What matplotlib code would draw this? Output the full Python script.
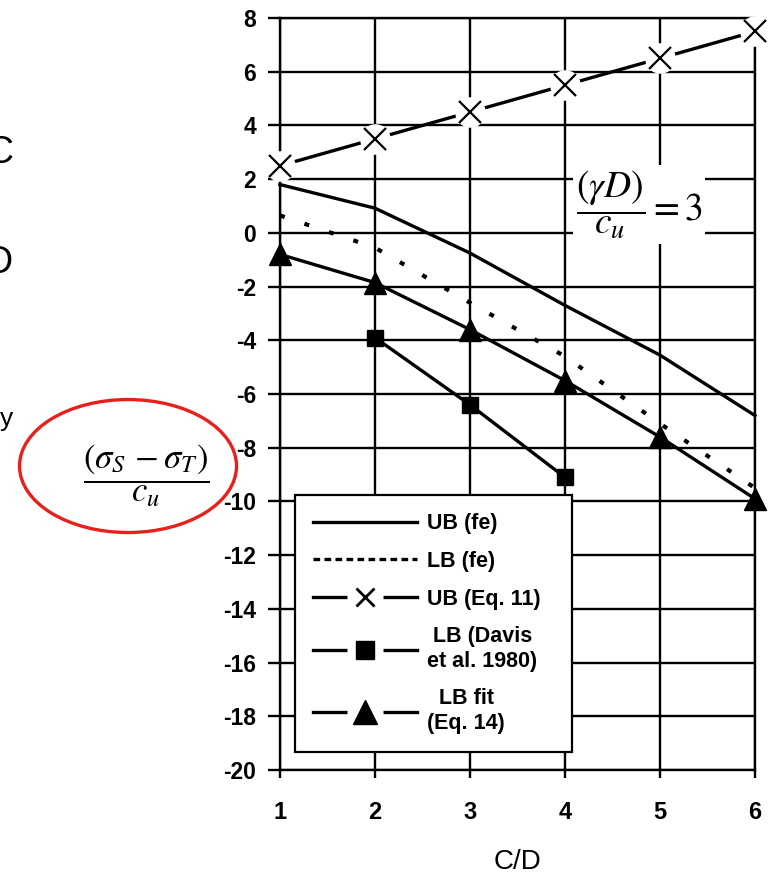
#!/usr/bin/env python3
"""Stress ratio vs. C/D for (gamma D)/c_u = 3: FE bounds and closed-form bounds."""
import matplotlib
matplotlib.use("Agg")
import matplotlib.pyplot as plt
from matplotlib.lines import Line2D
from matplotlib.legend_handler import HandlerTuple
from matplotlib.patches import Ellipse

# ── data ──────────────────────────────────────────────────────────────────────
cd = [1, 2, 3, 4, 5, 6]
ub_fe = [1.8, 0.92, -0.75, -2.7, -4.55, -6.8]
lb_fe = [0.65, -0.55, -2.6, -4.6, -7.1, -9.5]
ub_eq11 = [2.5, 3.5, 4.5, 5.5, 6.5, 7.5]
cd_davis = [2, 3, 4]
lb_davis = [-3.9, -6.4, -9.1]
lb_fit = [-0.8, -1.85, -3.6, -5.5, -7.6, -9.9]

x_ticks = [1, 2, 3, 4, 5, 6]
y_ticks = list(range(-20, 9, 2))
legend_labels = ["UB (fe)", "LB (fe)", "UB (Eq. 11)",
                 "LB (Davis\net al. 1980)", "LB fit\n(Eq. 14)"]

plt.rcParams.update({
    "font.family": ["Liberation Sans", "DejaVu Sans"],
    "mathtext.fontset": "stix",
})

LW = 2.4
GRID_LW = 1.7
DOTS = (0, (1.2, 5.0))

fig = plt.figure(figsize=(7.82, 8.76), dpi=100)
ax = fig.add_axes([0.358, 0.121, 0.6074, 0.8584])

ax.set_xlim(1, 6)
ax.set_ylim(-20, 8)
ax.set_xticks(x_ticks)
ax.set_yticks(y_ticks)
ax.grid(True, color="black", linewidth=GRID_LW, zorder=0)
for sp in ax.spines.values():
    sp.set_linewidth(GRID_LW)
ax.tick_params(axis="y", length=9, width=GRID_LW, pad=8, labelsize=16.5)
ax.tick_params(axis="x", length=6, width=GRID_LW, pad=16, labelsize=17)
ax.set_yticklabels([str(v) for v in y_ticks])
for lbl in ax.get_xticklabels() + ax.get_yticklabels():
    lbl.set_fontweight("bold")
ax.set_xlabel("C/D", fontsize=20, labelpad=18)

# curves
ax.plot(cd, ub_fe, color="black", lw=LW, zorder=3, clip_on=False)
ax.plot(cd, lb_fe, color="black", lw=LW + 0.6, ls=DOTS, zorder=3, clip_on=False)
ax.plot(cd_davis, lb_davis, color="black", lw=LW, marker="s", ms=12,
        zorder=4, clip_on=False)
ax.plot(cd, lb_fit, color="black", lw=LW, marker="^", ms=16,
        zorder=4, clip_on=False)

# Eq. 11 upper bound: line broken around each cross
ax.plot(cd, ub_eq11, color="black", lw=LW, zorder=3, clip_on=False)
ax.plot(cd, ub_eq11, ls="none", marker="o", ms=22, mfc="white", mec="none",
        zorder=4, clip_on=False)
ax.plot(cd, ub_eq11, ls="none", marker="x", ms=16, mew=1.6, color="black",
        zorder=5, clip_on=False)

ax.text(4.78, 1.05, r"$\dfrac{(\gamma D)}{c_u} = 3$", fontsize=27,
        ha="center", va="center", zorder=6,
        bbox=dict(boxstyle="square,pad=0.08", fc="white", ec="none"))

# legend handles
h_ub = Line2D([], [], color="black", lw=LW)
h_lb = Line2D([], [], color="black", lw=LW, ls=(0, (2.0, 1.3)))
gap = dict(ls="none", marker="o", ms=26, mfc="white", mec="none")
h_eq11 = (Line2D([], [], color="black", lw=LW), Line2D([], [], **gap),
          Line2D([], [], ls="none", marker="x", ms=13, mew=2.0, color="black"))
h_davis = (Line2D([], [], color="black", lw=LW), Line2D([], [], **gap),
           Line2D([], [], ls="none", marker="s", ms=13, color="black"))
h_fit = (Line2D([], [], color="black", lw=LW), Line2D([], [], **gap),
         Line2D([], [], ls="none", marker="^", ms=17, color="black"))

leg = ax.legend([h_ub, h_lb, h_eq11, h_davis, h_fit], legend_labels,
                handler_map={tuple: HandlerTuple(ndivide=1, pad=0)},
                loc="upper left", bbox_to_anchor=(0.0316, 0.024, 0.583, 0.342),
                mode="expand", borderaxespad=0, fontsize=15.5,
                handlelength=4.8, handletextpad=0.5, labelspacing=0.78,
                borderpad=0.85, fancybox=False, framealpha=1,
                edgecolor="black", numpoints=1)
leg.get_frame().set_linewidth(1.6)
leg.set_zorder(7)
for t in leg.get_texts():
    t.set_multialignment("center")
    t.set_fontweight("bold")

# y-axis label, circled
fig.text(0.187, 0.457, r"$\dfrac{(\sigma_S\,-\sigma_T)}{c_u}$", fontsize=25,
         ha="center", va="center")
fig.add_artist(Ellipse((0.1637, 0.468), 0.2775, 0.1518,
                       transform=fig.transFigure, fill=False,
                       edgecolor="#e8201c", linewidth=2.4, zorder=10))

# letters from the neighbouring column, cut by the page edge
for s, y, fs in [("C", 0.825, 27), ("D", 0.700, 27), ("y", 0.522, 19)]:
    fig.text(0.017, y, s, fontsize=fs, ha="right", va="center")

fig.savefig("out.png", dpi=100)
